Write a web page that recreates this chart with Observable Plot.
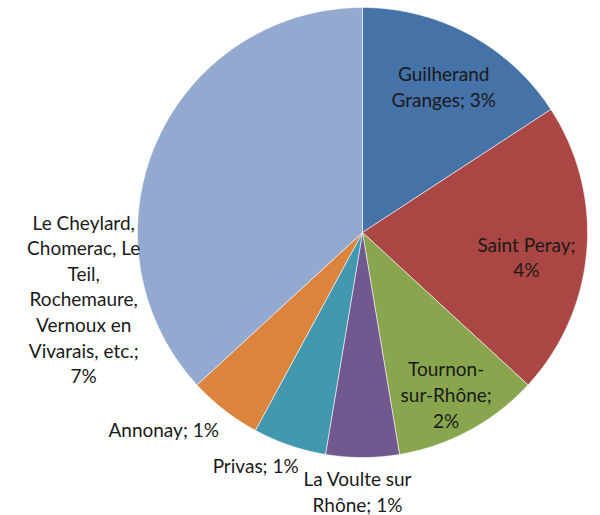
<!DOCTYPE html>
<html>
<head>
<meta charset="utf-8">
<script src="https://cdn.jsdelivr.net/npm/d3@7"></script>
<script src="https://cdn.jsdelivr.net/npm/@observablehq/plot@0.6"></script>
<style>
  html, body { margin: 0; padding: 0; background: #ffffff; }
  #chart svg { display: block; }
</style>
</head>
<body>
<div id="chart"></div>
<script>
// ---- data ----
const categories = [
  "Guilherand Granges",
  "Saint Peray",
  "Tournon-sur-Rhône",
  "La Voulte sur Rhône",
  "Privas",
  "Annonay",
  "Le Cheylard, Chomerac, Le Teil, Rochemaure, Vernoux en Vivarais, etc."
];
const values = [3, 4, 2, 1, 1, 1, 7];
const labelTexts = [
  "Guilherand\nGranges; 3%",
  "Saint Peray;\n4%",
  "Tournon-\nsur-Rhône;\n2%",
  "La Voulte sur\nRhône; 1%",
  "Privas; 1%",
  "Annonay; 1%",
  "Le Cheylard,\nChomerac, Le\nTeil,\nRochemaure,\nVernoux en\nVivarais, etc.;\n7%"
];
const colors = ["#4572A7", "#AA4643", "#89A54E", "#71588F", "#4198AF", "#DB843D", "#93A9CF"];

// ---- layout (label placement relative to slice mid-angle) ----
const RADIUS_PX = 225;
const labelRadius = [0.74, 0.74, 0.80, 1.12, 1.12, 1.12, 1.12];
const labelNudge = [[2, 0], [-2, 10], [-2, 3], [-5, 6], [-25, -6], [-44, -3], [-48, 167]];

// ---- geometry from d3.pie ----
const arcs = d3.pie().sort(null).value(d => d)(values);
const slicePts = [];
arcs.forEach((a, i) => {
  const name = categories[i];
  slicePts.push({name, x: 0, y: 0});
  const n = Math.max(2, Math.ceil((a.endAngle - a.startAngle) / (Math.PI / 360)));
  for (let k = 0; k <= n; k++) {
    const t = a.startAngle + (a.endAngle - a.startAngle) * k / n;
    slicePts.push({name, x: Math.sin(t), y: Math.cos(t)});
  }
  slicePts.push({name, x: 0, y: 0});
});

const labels = arcs.map((a, i) => {
  const m = (a.startAngle + a.endAngle) / 2;
  const r = labelRadius[i];
  return {
    name: categories[i],
    text: labelTexts[i],
    x: r * Math.sin(m) + labelNudge[i][0] / RADIUS_PX,
    y: r * Math.cos(m) - labelNudge[i][1] / RADIUS_PX
  };
});

const chart = Plot.plot({
  width: 600,
  height: 515,
  margin: 0,
  style: {fontFamily: "Lato, 'Open Sans', sans-serif", background: "#ffffff"},
  x: {domain: [-1, 1], range: [362 - RADIUS_PX, 362 + RADIUS_PX], axis: null},
  y: {domain: [-1, 1], range: [232 + RADIUS_PX, 232 - RADIUS_PX], axis: null},
  color: {domain: categories, range: colors},
  marks: [
    Plot.line(slicePts, {
      x: "x", y: "y", z: "name", fill: "name",
      stroke: "#ffffff", strokeWidth: 0.8, strokeOpacity: 0.7, curve: "linear"
    }),
    Plot.text(labels, {
      x: "x", y: "y", text: "text",
      fontSize: 19, lineHeight: 1.35, lineAnchor: "middle", textAnchor: "middle",
      fill: "#1a1a1a", fontFamily: "Lato"
    })
  ]
});
document.getElementById("chart").appendChild(chart);
</script>
</body>
</html>
